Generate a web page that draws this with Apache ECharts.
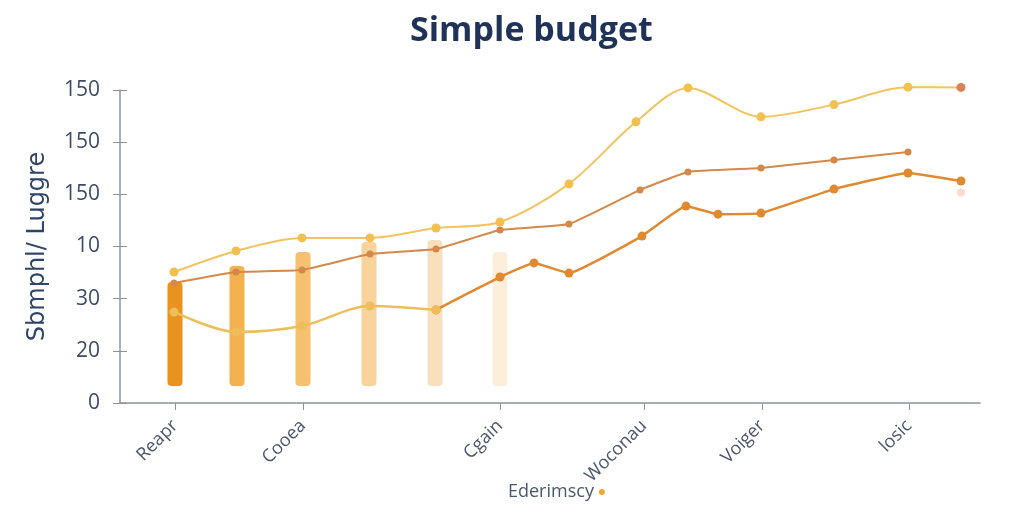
<!DOCTYPE html>
<html><head><meta charset="utf-8">
<script src="https://cdn.jsdelivr.net/npm/echarts@6/dist/echarts.min.js"></script>
<style>html,body{margin:0;padding:0;background:#fff}#c{width:1024px;height:512px}</style>
</head><body><div id="c"></div>
<script>
// ---- data ----
const yTickLabels = ["0","20","30","10","150","150","150"];
const xTickPos = [5.5, 18.3, 38, 52.4, 64.2, 78.9];
const xTickLabels = ["Reapr","Cooea","Cgain","Woconau","Voiger","losic"];
const legendName = "Ederimscy";
const yAxisName = "Sbmphl/ Luggre";

const topX = [5.4,11.6,18.2,25,31.6,38,44.9,51.6,56.8,64.1,71.4,78.8,84.1];
const topY = [50.2,58.3,63.3,63.3,67.1,69.4,84.0,107.8,120.8,109.7,114.4,121.1,121];

const midX = [5.4,11.6,18.2,25,31.6,38,44.9,52,56.8,64.1,71.4,78.8];
const midY = [46.0,50.2,51.0,57.1,59.0,66.3,68.6,81.7,88.6,90.1,93.2,96.2];

const lowAX = [5.4,11.6,18.2,25,31.6];
const lowAY = [34.9,27.2,29.5,37.2,35.7];

const lowBX = [31.6,38,41.4,44.9,52.2,56.6,59.8,64.1,71.4,78.8,84.1];
const lowBY = [35.7,48.3,53.7,49.8,64.0,75.5,72.4,72.8,82.0,88.2,85.1];

const barX = [5.5,11.7,18.3,24.9,31.5,38];
const barLow = [6.5,6.5,6.5,6.5,6.5,6.5];
const barHigh = [46.4,52.5,57.9,61.7,62.5,57.9];

const strayX = [84.1];
const strayY = [80.7];

// ---- styles ----
const barColors = ['#E8921F','#F3B24E','#F5C06F','#F8D39C','#FADFBD','#FCEEDA'];
const zip = (a,b)=>a.map((v,i)=>[v,b[i]]);
const axisColor = '#8A93A0';

const chart = echarts.init(document.getElementById('c'));
chart.setOption({
  backgroundColor:'#ffffff',
  animation:false,
  title:{text:'Simple budget',left:405,top:9,textStyle:{fontFamily:'Open Sans',fontWeight:'bold',fontSize:34,color:'#1F3358'}},
  legend:{data:[{name:legendName,itemStyle:{color:'#F0A830'}}],left:503,top:478,align:'right',itemWidth:6,itemHeight:6,itemGap:3,icon:'circle',
    textStyle:{fontFamily:'Open Sans',fontSize:18,color:'#4A5670'}},
  grid:{left:120,right:44,top:90,bottom:109},
  xAxis:{type:'value',min:0,max:86,
    axisLine:{show:true,lineStyle:{color:axisColor,width:1.5}},
    splitLine:{show:false},
    axisTick:{show:true,customValues:xTickPos,length:7,lineStyle:{color:axisColor}},
    axisLabel:{customValues:xTickPos,rotate:45,margin:20,fontFamily:'Open Sans',fontSize:18,color:'#4A5670',
      formatter:(v)=>{const i=xTickPos.indexOf(v);return i>=0?xTickLabels[i]:'';}}
  },
  yAxis:[{type:'value',min:0,max:120,interval:20,
    name:yAxisName,nameLocation:'middle',nameGap:70,nameRotate:90,
    nameTextStyle:{fontFamily:'DejaVu Sans',fontSize:24,color:'#2E4468'},
    axisLine:{show:true,lineStyle:{color:axisColor,width:1.5}},
    axisTick:{show:true,length:7,lineStyle:{color:axisColor}},
    splitLine:{show:false},
    axisLabel:{margin:20,fontFamily:'Open Sans',fontSize:21,color:'#3C4B66',
      formatter:(v)=>yTickLabels[Math.round(v/20)]}
  },{type:'value',min:0,max:120,interval:20,position:'left',
    axisLine:{show:true,lineStyle:{color:'rgba(0,0,0,0)'}},axisLabel:{show:false},splitLine:{show:false},
    axisTick:{show:true,inside:true,length:7,lineStyle:{color:axisColor}}}],
  series:[
    {type:'custom',name:'bars',z:1,clip:false,
      data:barX.map((x,i)=>[x,barLow[i],barHigh[i]]),
      renderItem:(params,api)=>{
        const p1=api.coord([api.value(0),api.value(2)]);
        const p2=api.coord([api.value(0),api.value(1)]);
        const w=15;
        return {type:'rect',shape:{x:p1[0]-w/2,y:p1[1],width:w,height:p2[1]-p1[1],r:4},
          style:{fill:barColors[params.dataIndex]}};
      }},
    {type:'line',name:'lowB',z:3,clip:false,smooth:0.1,data:zip(lowBX,lowBY),
      symbol:'circle',symbolSize:9,lineStyle:{color:'#E0892F',width:2.5},itemStyle:{color:'#E0892F'}},
    {type:'line',name:'lowA',z:4,clip:false,smooth:0.3,data:zip(lowAX,lowAY),
      symbol:'circle',symbolSize:9,lineStyle:{color:'#EDBE5A',width:2.5},itemStyle:{color:'#EDBE5A'}},
    {type:'line',name:'mid',z:3,clip:false,smooth:0.1,data:zip(midX,midY),
      symbol:'circle',symbolSize:7,lineStyle:{color:'#D4894A',width:2},itemStyle:{color:'#D4894A'}},
    {type:'line',name:legendName,z:3,clip:false,smooth:0.3,data:zip(topX,topY),
      symbol:'circle',symbolSize:9,lineStyle:{color:'#F2C35E',width:2},
      itemStyle:{color:(p)=>p.dataIndex===topX.length-1?'#D9835A':'#F2C04E'}},
    {type:'scatter',name:'stray',z:3,data:zip(strayX,strayY),symbolSize:8,itemStyle:{color:'#F5D3C3'}}
  ]
});
</script></body></html>
